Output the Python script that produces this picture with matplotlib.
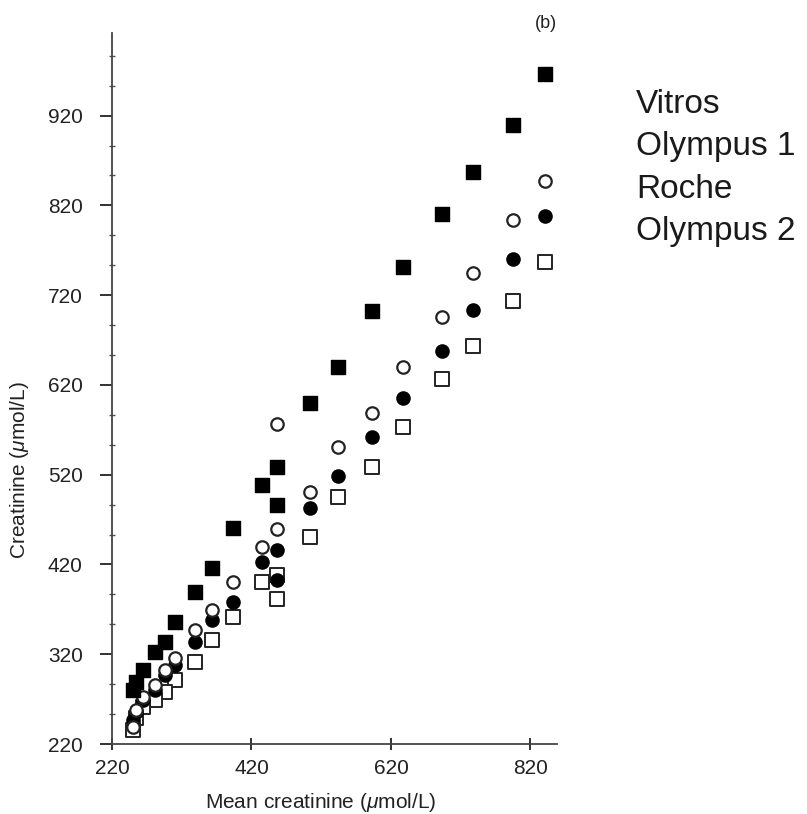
import numpy as np
import matplotlib.pyplot as plt
from matplotlib.ticker import AutoMinorLocator

plt.rcParams['font.family'] = ['Liberation Sans', 'DejaVu Sans']
plt.rcParams['mathtext.fontset'] = 'custom'
plt.rcParams['mathtext.it'] = 'Liberation Sans:italic'
plt.rcParams['mathtext.rm'] = 'Liberation Sans'

# mean creatinine per sample (umol/L)
mean_creat = [841, 795, 738, 693, 637, 593, 544, 504, 457, 457,
              435, 393, 363, 339, 310, 296, 282, 264, 255, 250]
vitros = [966, 910, 857, 810, 751, 702, 640, 600, 529, 486,
          509, 461, 416, 389, 356, 334, 323, 302, 289, 280]
olympus1 = [847, 804, 745, 696, 640, 589, 551, 501, 577, 459,
            440, 401, 369, 347, 316, 302, 286, 272, 258, 239]
roche = [808, 760, 703, 658, 605, 562, 518, 483, 436, 403,
         423, 378, 358, 334, 308, 297, 280, 269, 256, 247]
olympus2 = [757, 713, 663, 627, 573, 529, 495, 451, 408, 381,
            401, 362, 336, 311, 291, 278, 269, 261, 249, 236]

legend_names = ["Vitros", "Olympus 1", "Roche", "Olympus 2"]

W, H = 807, 814
fig = plt.figure(figsize=(W / 100, H / 100), dpi=100)
ax = fig.add_axes([112 / W, 70 / H, 445 / W, 711 / H])

ax.scatter(mean_creat, olympus2, marker='s', s=95, facecolors='white',
           edgecolors='#222222', linewidths=1.4, zorder=3)
ax.scatter(mean_creat, roche, marker='o', s=90, color='black', zorder=4)
ax.scatter(mean_creat, olympus1, marker='o', s=80, facecolors='white',
           edgecolors='#222222', linewidths=1.6, zorder=5)
ax.scatter(mean_creat, vitros, marker='s', s=110, color='black', zorder=6)

ax.set_xlim(220, 858)
ax.set_ylim(220, 1012)
ax.set_xticks([220, 420, 620, 820])
ax.set_yticks(np.arange(220, 1000, 100))
ax.yaxis.set_minor_locator(AutoMinorLocator(3))

for s in ['top', 'right']:
    ax.spines[s].set_visible(False)
for s in ['left', 'bottom']:
    ax.spines[s].set_color('#444444')
    ax.spines[s].set_linewidth(1.3)

ax.tick_params(axis='y', which='major', direction='out', length=9, width=1.3,
               pad=12, labelsize=15, colors='#222222')
ax.tick_params(axis='y', which='minor', direction='inout', length=4, width=1,
               colors='#555555')
ax.tick_params(axis='x', which='major', direction='inout', length=8, width=1.3,
               pad=7, labelsize=15, colors='#222222')

fig.text(321 / W, 1 - 802 / H, "Mean creatinine ($\\mathit{\\mu}$mol/L)",
         fontsize=15, color='#222222', ha='center', va='center')
fig.text(20 / W, 1 - 470 / H, "Creatinine ($\\mathit{\\mu}$mol/L)",
         fontsize=15, color='#222222', ha='center', va='center', rotation=90)

fig.text(546 / W, 1 - 24 / H, "(b)", fontsize=13, color='#222222',
         ha='center', va='center')

for i, name in enumerate(legend_names):
    fig.text(636 / W, 1 - (113 + 42.3 * i) / H, name, fontsize=24,
             color='#1a1a1a', ha='left', va='baseline')

fig.savefig("out.png", dpi=100)
